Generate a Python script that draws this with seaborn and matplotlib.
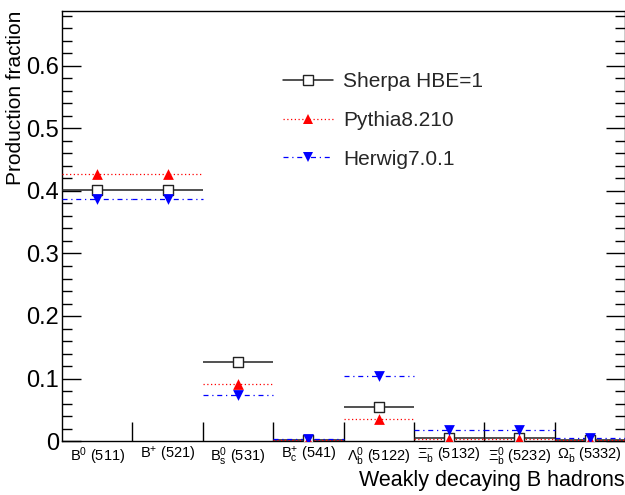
import numpy as np
import pandas as pd
import matplotlib
matplotlib.use('Agg')
import matplotlib.pyplot as plt
from matplotlib.lines import Line2D
from matplotlib.ticker import MultipleLocator, FixedLocator, FuncFormatter
import seaborn as sns

# ── Data ──────────────────────────────────────────────────────────────────────

hadrons = [r'B$^{0}$ (511)', r'B$^{+}$ (521)', r'B$_{s}^{0}$ (531)',
           r'B$_{c}^{+}$ (541)', r'$\Lambda_{b}^{0}$ (5122)',
           r'$\Xi_{b}^{-}$ (5132)', r'$\Xi_{b}^{0}$ (5232)',
           r'$\Omega_{b}^{-}$ (5332)']
sherpa  = [0.401, 0.401, 0.127, 0.002, 0.055, 0.005, 0.005, 0.001]
pythia  = [0.427, 0.427, 0.092, 0.001, 0.035, 0.004, 0.004, 0.001]
herwig  = [0.387, 0.387, 0.073, 0.004, 0.104, 0.017, 0.017, 0.005]

# ── Style ─────────────────────────────────────────────────────────────────────

sns.set_theme(style='ticks')
plt.rcParams['font.family'] = ['Liberation Sans', 'DejaVu Sans']
plt.rcParams['mathtext.fontset'] = 'custom'
plt.rcParams['mathtext.rm'] = 'Liberation Sans'
plt.rcParams['mathtext.it'] = 'Liberation Sans'
plt.rcParams['mathtext.bf'] = 'Liberation Sans:bold'

df = pd.DataFrame({'x': np.arange(len(hadrons)) + 0.5,
                   'sherpa': sherpa, 'pythia': pythia, 'herwig': herwig})

fig = plt.figure(figsize=(6.25, 4.95), dpi=100)
ax = fig.add_axes([62/625, 1 - 441/495, 563/625, 430/495])

series = [
    # column, label, color, linestyle, marker, face, lw
    ('sherpa', 'Sherpa HBE=1', '#222222', '-', 's', 'white', 1.1),
    ('pythia', 'Pythia8.210', '#ff0000', (0, (1, 2)), '^', '#ff0000', 0.9),
    ('herwig', 'Herwig7.0.1', '#0000ff', (0, (4, 3, 1, 3)), 'v', '#0000ff', 0.9),
]

handles = []
for col, lab, c, ls, mk, fc, lw in series:
    ax.hlines(df[col], df['x'] - 0.5, df['x'] + 0.5, colors=c,
              linestyles=[ls], linewidth=lw, zorder=3)
    sns.scatterplot(data=df, x='x', y=col, marker=mk, s=60, color=fc,
                    edgecolor=c, linewidth=1.0 if mk == 's' else 0,
                    ax=ax, zorder=5, legend=False)
    handles.append(Line2D([], [], color=c, linestyle=ls, linewidth=lw,
                          marker=mk, markersize=7.5, markerfacecolor=fc,
                          markeredgecolor=c,
                          markeredgewidth=1.0 if mk == 's' else 0))

# ── Axes ──────────────────────────────────────────────────────────────────────

ax.set_xlim(0, len(hadrons))
ax.set_ylim(0, 0.688)

ax.xaxis.set_major_locator(FixedLocator(np.arange(1, len(hadrons))))
ax.xaxis.set_major_formatter(FuncFormatter(lambda v, p: ''))
ax.xaxis.set_minor_locator(FixedLocator(df['x']))
ax.set_xticklabels(hadrons, minor=True)
ax.tick_params(axis='x', which='major', direction='in', length=14,
               width=1, color='black', bottom=True, top=False)
ax.tick_params(axis='x', which='minor', length=0, labelsize=10.5, pad=3,
               labelcolor='black')

ax.yaxis.set_major_locator(MultipleLocator(0.1))
ax.yaxis.set_minor_locator(MultipleLocator(0.02))
ax.yaxis.set_major_formatter(FuncFormatter(lambda v, p: f'{v:g}'))
ax.tick_params(axis='y', which='major', direction='in', length=14, width=1,
               left=True, right=True, labelsize=17, pad=2, color='black',
               labelcolor='black')
ax.tick_params(axis='y', which='minor', direction='in', length=7, width=1,
               left=True, right=True, color='black')

for sp in ax.spines.values():
    sp.set_color('black')
    sp.set_linewidth(1.0)

ax.set_ylabel('Production fraction', fontsize=15, loc='top', color='black')
ax.yaxis.set_label_coords(-0.082, 1.0)
ax.yaxis.label.set_verticalalignment('center')
ax.set_xlabel('Weakly decaying B hadrons', fontsize=15.5, loc='right',
              color='black')
ax.xaxis.set_label_coords(1.0, -0.092)
ax.xaxis.label.set_verticalalignment('center')

ax.legend(handles=handles, labels=[s[1] for s in series],
          loc='upper left', bbox_to_anchor=(283/625, 1 - 72/495),
          bbox_transform=fig.transFigure, frameon=False, fontsize=15,
          handlelength=2.4, handletextpad=0.5, labelspacing=0.95,
          borderaxespad=0, borderpad=0)

plt.savefig('out.png', dpi=100)
plt.close()
